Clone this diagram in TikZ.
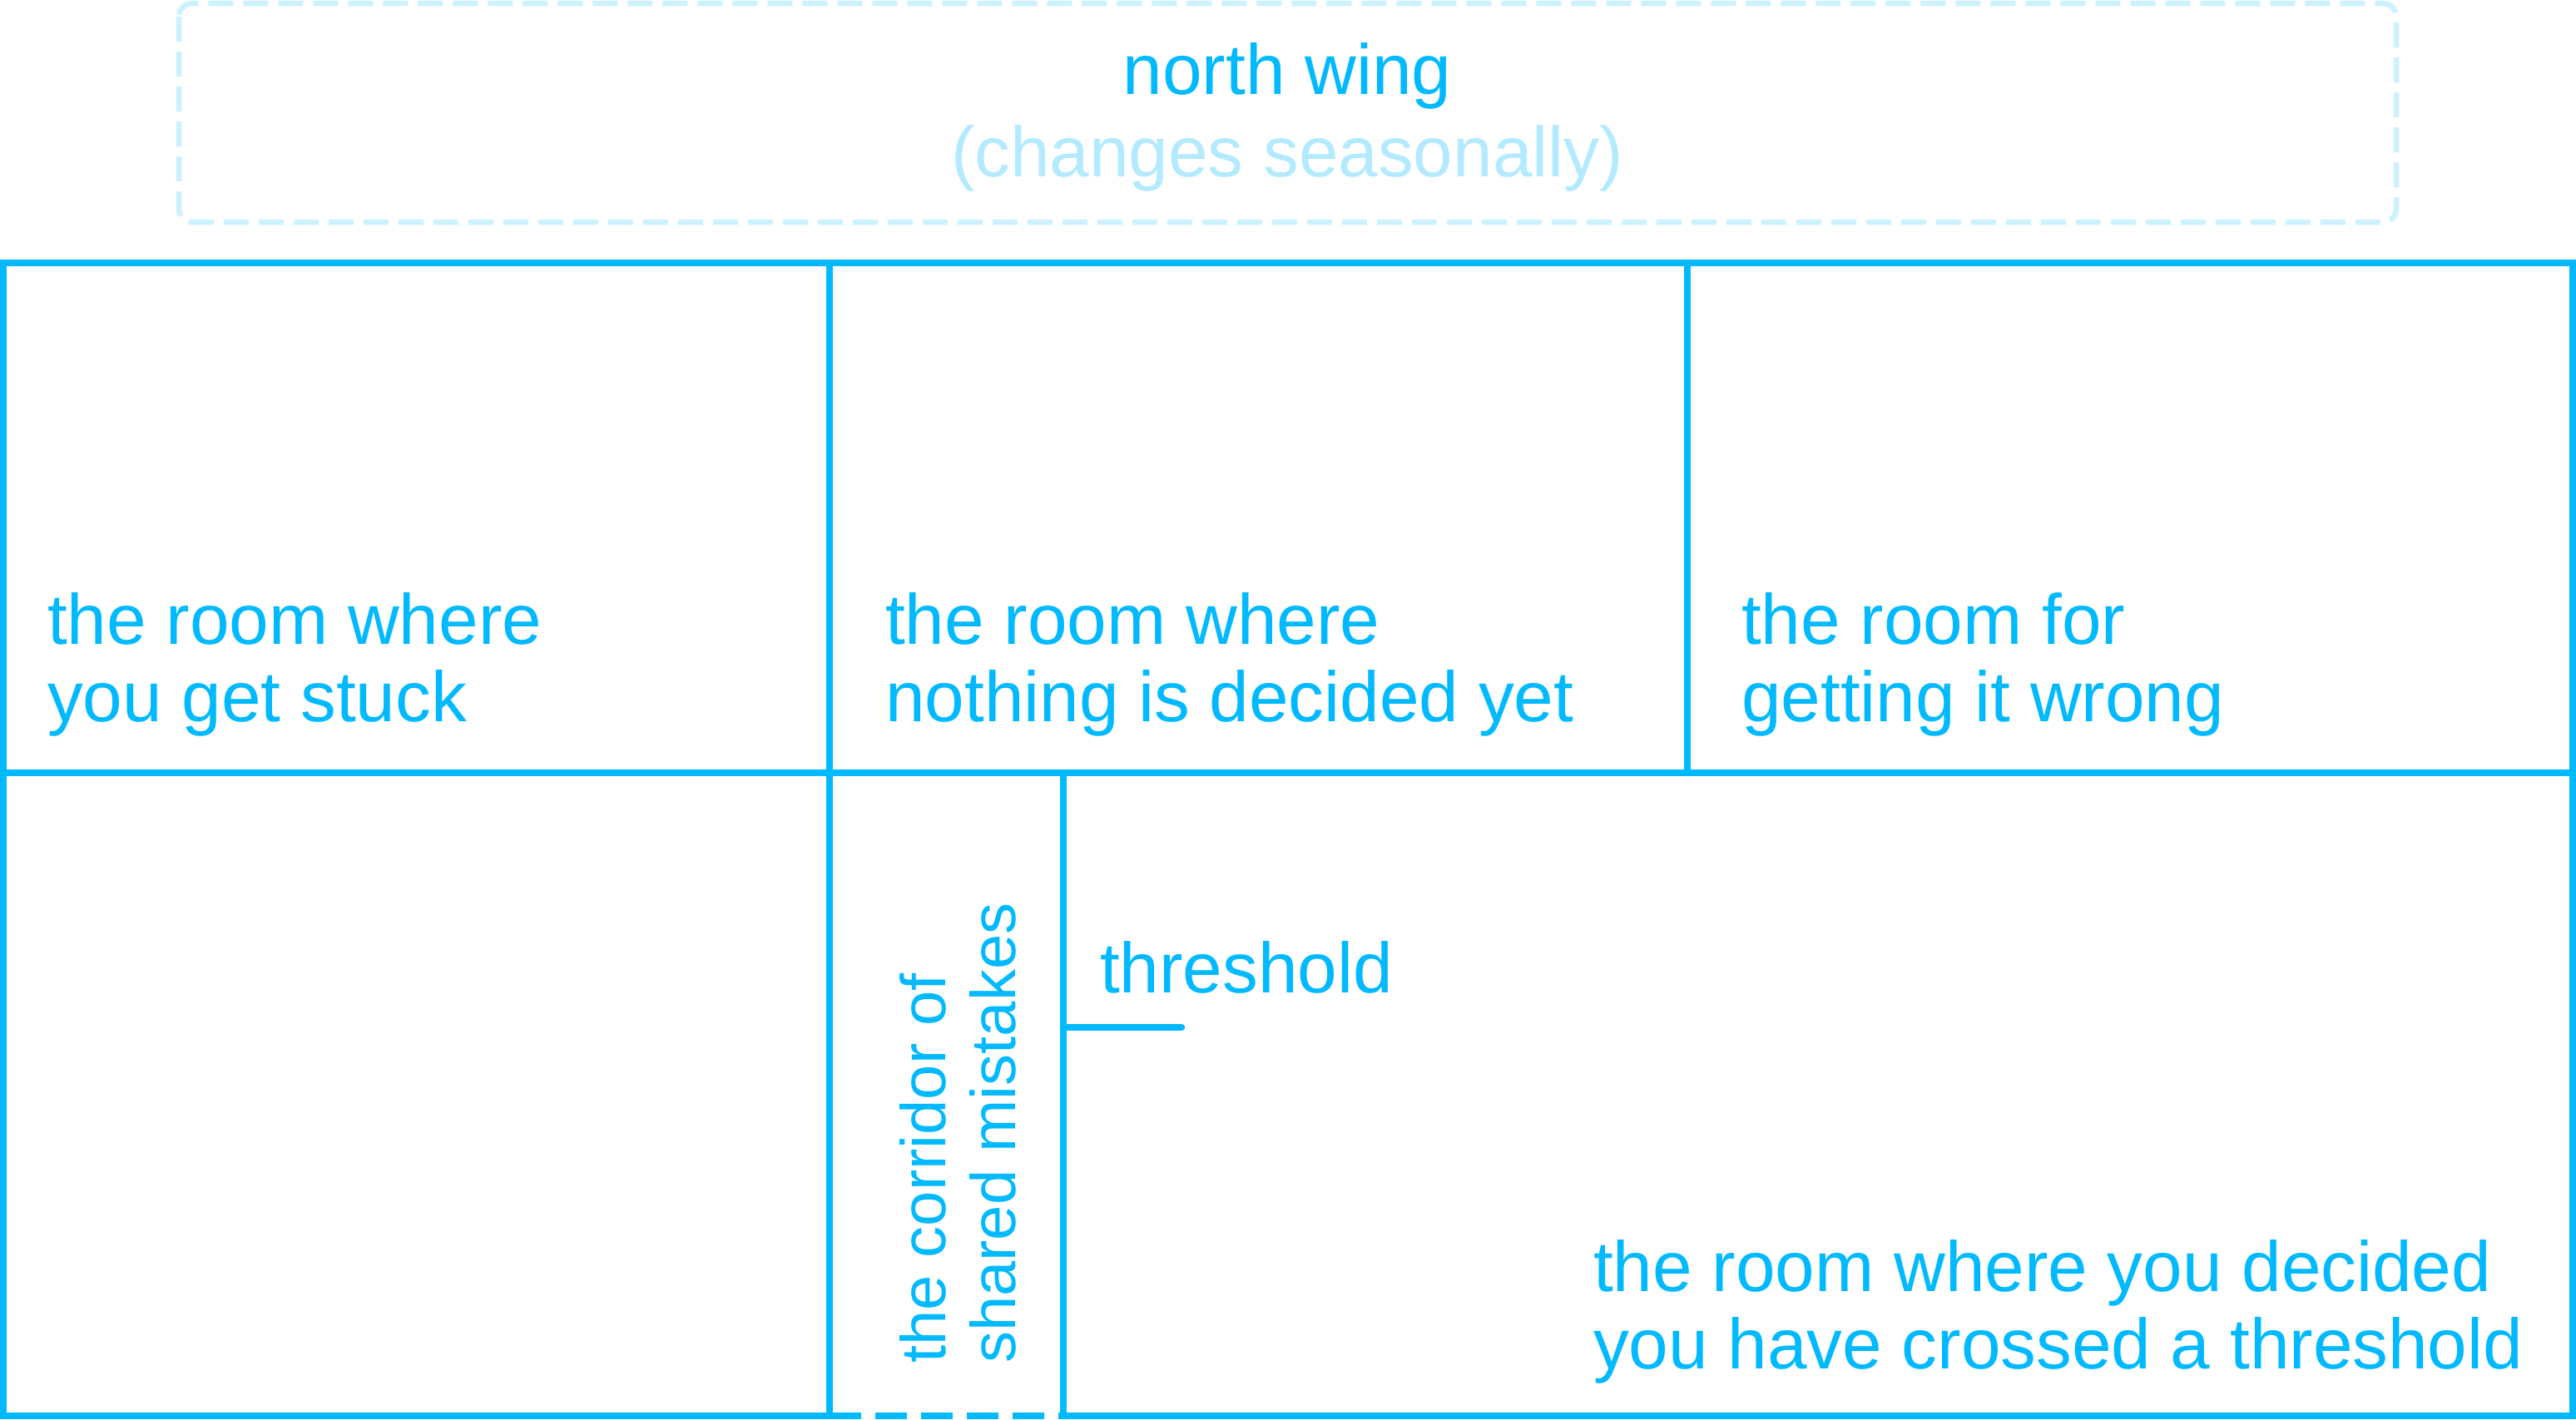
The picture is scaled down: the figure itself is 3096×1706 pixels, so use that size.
\documentclass[tikz,border=0pt]{standalone}
\usepackage{fontspec}
\setmainfont{Liberation Sans}
\definecolor{wall}{RGB}{0,185,255}
\definecolor{faintline}{RGB}{204,241,255}
\definecolor{fainttext}{RGB}{179,234,255}
\begin{document}
\begin{tikzpicture}[x=1pt,y=-1pt,
  wallline/.style={draw=wall,line width=8.5pt},
  openline/.style={draw=wall,line width=8.5pt,dash pattern=on 38pt off 17pt},
  wingbox/.style={draw=faintline,line width=6.5pt,dash pattern=on 30pt off 12pt,rounded corners=16pt},
  roomlabel/.style={text=wall,font=\fontsize{85.5}{93}\selectfont,inner sep=0pt,align=left,anchor=base west},
  corrlabel/.style={text=wall,font=\fontsize{76}{84}\selectfont,inner sep=0pt,align=left,anchor=base west,rotate=90},
  winglabel/.style={font=\fontsize{85.5}{93}\selectfont,inner sep=0pt,anchor=base}]
\path[use as bounding box] (0,0) rectangle (3096,1706);
% key points
\coordinate (tl) at (4,316);
\coordinate (tr) at (3092,316);
\coordinate (bl) at (4,1702);
\coordinate (br) at (3092,1702);
\coordinate (ml) at (4,929);
\coordinate (mr) at (3092,929);
\coordinate (d1t) at (997,316);
\coordinate (d1b) at (997,1702);
\coordinate (d2t) at (2028,316);
\coordinate (d2b) at (2028,929);
\coordinate (ct) at (1278,929);
\coordinate (cb) at (1278,1702);
\coordinate (th1) at (1278,1235);
\coordinate (th2) at (1420,1235);
% north wing
\draw[wingbox] (215,4) rectangle (2880,267);
\node[winglabel,text=wall] (wing) at (1547,113) {north wing};
\node[winglabel,text=fainttext] (wingnote) at (1547,212) {(changes seasonally)};
% walls
\draw[wallline] (d1b) -- (bl) -- (tl) -- (tr) -- (br) -- (cb);
\draw[openline] (d1b) -- (cb);
\draw[wallline] (ml) -- (mr);
\draw[wallline] (d1t) -- (d1b);
\draw[wallline] (d2t) -- (d2b);
\draw[wallline] (ct) -- (cb);
\draw[wallline,line cap=round] (th1) -- (th2);
% labels (base anchor = baseline of the last line)
\node[roomlabel] (r1) at (57,867) {the room where\\you get stuck};
\node[roomlabel] (r2) at (1064,867) {the room where\\nothing is decided yet};
\node[roomlabel] (r3) at (2093,867) {the room for\\getting it wrong};
\node[roomlabel] (r4) at (1915,1645) {the room where you decided\\you have crossed a threshold};
\node[roomlabel] (th) at (1322,1193) {threshold};
\node[corrlabel] (corr) at (1220,1639) {the corridor of\\shared mistakes};
\end{tikzpicture}
\end{document}
